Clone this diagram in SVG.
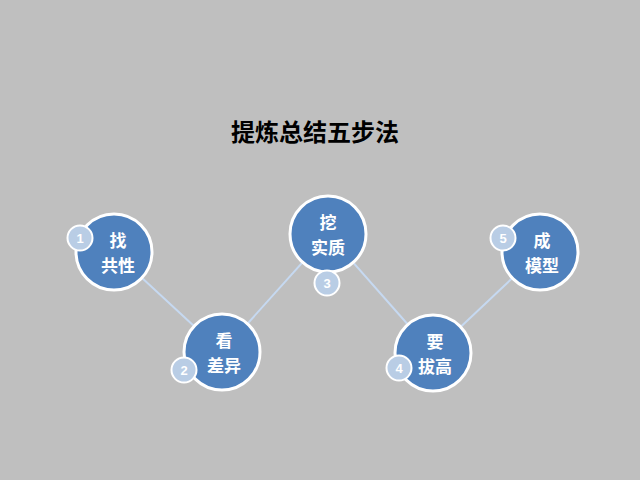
<svg xmlns="http://www.w3.org/2000/svg" width="640" height="480" viewBox="0 0 640 480">
<style>
.c{fill:#4F81BD;stroke:#fff;stroke-width:3}
.b{fill:#B9CDE5;stroke:#fff;stroke-width:2}
.t{font-family:"Noto Sans CJK SC",sans-serif;font-weight:bold;font-size:17px;fill:#fff;text-anchor:middle}
.n{font-family:"Liberation Sans",sans-serif;font-weight:bold;font-size:13px;fill:#fff;text-anchor:middle}
.l{stroke:#C6D9F1;stroke-width:2}
</style>
<rect width="640" height="480" fill="#BFBFBF"/>
<text x="315" y="141" font-family="Noto Sans CJK SC,sans-serif" font-weight="bold" font-size="24" text-anchor="middle" fill="#000">提炼总结五步法</text>
<g id="connectors">
<line class="l" x1="114" y1="252" x2="222" y2="352"/>
<line class="l" x1="222" y1="352" x2="328" y2="234"/>
<line class="l" x1="328" y1="234" x2="433" y2="353"/>
<line class="l" x1="433" y1="353" x2="540" y2="252"/>
</g>
<g id="n1"><circle class="c" cx="114" cy="252" r="38"/><text class="t" x="118" y="247">找</text><text class="t" x="118" y="272">共性</text><circle class="b" cx="80" cy="238" r="12.5"/><text class="n" x="80" y="243">1</text></g>
<g id="n2"><circle class="c" cx="222" cy="352" r="38"/><text class="t" x="224" y="347">看</text><text class="t" x="224" y="372">差异</text><circle class="b" cx="184" cy="370" r="12.5"/><text class="n" x="184" y="375">2</text></g>
<g id="n3"><circle class="c" cx="328" cy="234" r="38"/><text class="t" x="328" y="229">挖</text><text class="t" x="328" y="254">实质</text><circle class="b" cx="327" cy="283" r="12.5"/><text class="n" x="327" y="288">3</text></g>
<g id="n4"><circle class="c" cx="433" cy="353" r="38"/><text class="t" x="435" y="348">要</text><text class="t" x="435" y="373">拔高</text><circle class="b" cx="399" cy="368" r="12.5"/><text class="n" x="399" y="373">4</text></g>
<g id="n5"><circle class="c" cx="540" cy="252" r="38"/><text class="t" x="542" y="247">成</text><text class="t" x="542" y="272">模型</text><circle class="b" cx="503" cy="238" r="12.5"/><text class="n" x="503" y="243">5</text></g>
</svg>
